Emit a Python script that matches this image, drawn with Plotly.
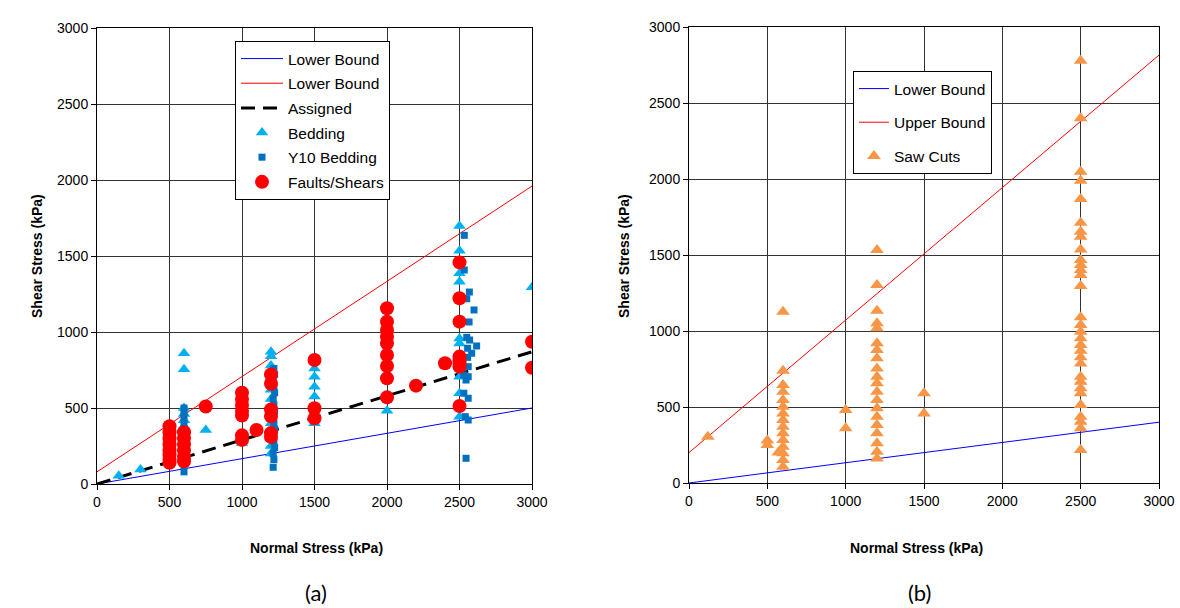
import plotly.graph_objects as go

# ---------------- data: panel (a) ----------------
lb_a_x = [0, 3000]
lb_a_y = [0, 500]
ub_a_x = [0, 3000]
ub_a_y = [80, 1960]
asg_x = [0, 3000]
asg_y = [0, 870]

bed_x = [150, 300,
         600, 600, 600, 600, 600, 600,
         750, 1000,
         1200, 1200, 1200, 1200, 1200, 1200, 1200, 1200, 1200, 1200, 1200, 1200, 1200,
         1500, 1500, 1500, 1500, 1500,
         2000,
         2500, 2500, 2500, 2500, 2500, 2500, 2500, 2500, 2500,
         3000]
bed_y = [55, 95,
         860, 755, 500, 460, 420, 380,
         355, 270,
         870, 840, 780, 700, 620, 560, 500, 450, 400, 350, 300, 250, 200,
         760, 705, 640, 575, 400,
         482,
         1697, 1535, 1386, 1331, 958, 925, 706, 597, 443,
         1295]

y10_x = [600, 600, 600, 600, 600, 600, 600, 600, 600, 600, 600, 600,
         1220, 1225, 1215, 1220, 1225, 1215, 1220, 1225, 1215, 1220, 1225, 1215, 1220, 1225, 1215, 1220, 1215,
         2533, 2533, 2568, 2550, 2600, 2566, 2550, 2570, 2618, 2556, 2584, 2556, 2560,
         2530, 2560, 2545, 2530, 2560, 2540, 2560, 2545]
y10_y = [500, 470, 440, 400, 360, 320, 280, 240, 200, 160, 120, 80,
         760, 720, 680, 640, 600, 560, 520, 480, 440, 400, 360, 320, 280, 240, 200, 160, 110,
         1636, 1408, 1263, 1219, 1145, 1066, 965, 947, 908, 893, 860, 833, 772,
         717, 706, 684, 597, 564, 443, 421, 169]

flt_x = [500, 500, 500, 500, 500, 500, 500, 500,
         600, 600, 600, 600, 600, 600,
         750,
         1000, 1000, 1000, 1000, 1000, 1000, 1000,
         1100,
         1200, 1200, 1200, 1200, 1200, 1200,
         1500, 1500, 1500,
         2000, 2000, 2000, 2000, 2000, 2000, 2000, 2000, 2000,
         2200, 2400,
         2500, 2500, 2500, 2500, 2500, 2500, 2500, 2500,
         3000, 3000]
flt_y = [380, 340, 300, 260, 220, 190, 160, 140,
         340, 300, 260, 220, 180, 150,
         510,
         600, 560, 520, 480, 450, 320, 290,
         355,
         720, 660, 490, 445, 335, 310,
         816, 498, 432,
         1156, 1068, 1013, 969, 925, 849, 776, 695, 570,
         647, 794,
         1458, 1222, 1068, 838, 816, 794, 772, 513,
         936, 765]

# ---------------- data: panel (b) ----------------
lb_b_x = [0, 3000]
lb_b_y = [0, 400]
ub_b_x = [0, 3000]
ub_b_y = [200, 2815]

saw_x = [120, 500, 500, 570,
         600, 600, 600, 600, 600, 600, 600, 600, 600, 600, 600, 600, 600, 600, 600,
         1000, 1000,
         1200, 1200, 1200, 1200, 1200, 1200, 1200, 1200, 1200, 1200, 1200, 1200, 1200,
         1200, 1200, 1200, 1200, 1200, 1200, 1200,
         1500, 1500,
         2500, 2500, 2500, 2500, 2500, 2500, 2500, 2500, 2500, 2500, 2500, 2500, 2500,
         2500, 2500, 2500, 2500, 2500, 2500, 2500, 2500, 2500, 2500, 2500, 2500, 2500,
         2500, 2500, 2500, 2500, 2500]
saw_y = [305, 280, 250, 200,
         1127, 739, 645, 601, 546, 502, 458, 414, 370, 327, 283, 239, 195, 151, 107,
         480, 360,
         1533, 1303, 1134, 1051, 1018, 919, 875, 820, 754, 699, 656, 601, 546,
         491, 436, 382, 327, 261, 206, 162,
         590, 458,
         2778, 2399, 2048, 1989, 1868, 1712, 1653, 1620, 1537, 1467, 1434, 1401, 1368,
         1296, 1090, 1039, 995, 952, 908, 870, 827, 787, 699, 666, 623, 590,
         513, 436, 403, 360, 217]

tick_vals = [0, 500, 1000, 1500, 2000, 2500, 3000]
tick_text = ["0", "500", "1000", "1500", "2000", "2500", "3000"]

FONT = "Liberation Sans, Arial, sans-serif"
W, H = 1180, 608


def px(xp):
    return xp / W


def py(yp):
    return 1 - yp / H


fig = go.Figure()

# panel (a)
fig.add_trace(go.Scatter(x=lb_a_x, y=lb_a_y, mode="lines", name="Lower Bound",
                         line=dict(color="#0000FF", width=1), xaxis="x", yaxis="y",
                         legend="legend", legendgroup="a1"))
fig.add_trace(go.Scatter(x=ub_a_x, y=ub_a_y, mode="lines", name="Lower Bound",
                         line=dict(color="#FF0000", width=1), xaxis="x", yaxis="y",
                         legend="legend", legendgroup="a2"))
fig.add_trace(go.Scatter(x=asg_x, y=asg_y, mode="lines", name="Assigned",
                         line=dict(color="#000000", width=3, dash="14px,8px"),
                         xaxis="x", yaxis="y", legend="legend", legendgroup="a3"))
fig.add_trace(go.Scatter(x=bed_x, y=bed_y, mode="markers", name="Bedding",
                         marker=dict(symbol="triangle-up", size=11, color="#00B0F0"),
                         xaxis="x", yaxis="y", legend="legend", legendgroup="a4"))
fig.add_trace(go.Scatter(x=y10_x, y=y10_y, mode="markers", name="Y10 Bedding",
                         marker=dict(symbol="square", size=7, color="#0070C0"),
                         xaxis="x", yaxis="y", legend="legend", legendgroup="a5"))
fig.add_trace(go.Scatter(x=flt_x, y=flt_y, mode="markers", name="Faults/Shears",
                         marker=dict(symbol="circle", size=14, color="#FF0000"),
                         xaxis="x", yaxis="y", legend="legend", legendgroup="a6"))

# panel (b)
fig.add_trace(go.Scatter(x=lb_b_x, y=lb_b_y, mode="lines", name="Lower Bound",
                         line=dict(color="#0000FF", width=1), xaxis="x2", yaxis="y2",
                         legend="legend2", legendgroup="b1"))
fig.add_trace(go.Scatter(x=ub_b_x, y=ub_b_y, mode="lines", name="Upper Bound",
                         line=dict(color="#FF0000", width=1), xaxis="x2", yaxis="y2",
                         legend="legend2", legendgroup="b2"))
fig.add_trace(go.Scatter(x=saw_x, y=saw_y, mode="markers", name="Saw Cuts",
                         marker=dict(symbol="triangle-up", size=12, color="#F79646"),
                         xaxis="x2", yaxis="y2", legend="legend2", legendgroup="b3"))

axis_common = dict(range=[0, 3000], tickvals=tick_vals, ticktext=tick_text,
                   showgrid=True, gridcolor="#333333", gridwidth=1,
                   showline=True, linecolor="#000000", linewidth=1, mirror=True,
                   ticks="outside", ticklen=5, tickcolor="#000000",
                   tickfont=dict(family=FONT, size=14, color="#000000"),
                   zeroline=False, automargin=False, fixedrange=True)

fig.update_layout(
    width=W, height=H,
    margin=dict(l=0, r=0, t=0, b=0),
    paper_bgcolor="white", plot_bgcolor="white",
    font=dict(family=FONT, size=14, color="#000000"),
    xaxis=dict(domain=[px(97), px(532)], anchor="y", **axis_common),
    yaxis=dict(domain=[py(484), py(28)], anchor="x", **axis_common),
    xaxis2=dict(domain=[px(689), px(1159)], anchor="y2", **axis_common),
    yaxis2=dict(domain=[py(483), py(27)], anchor="x2", **axis_common),
    legend=dict(x=px(235), y=py(41), xanchor="left", yanchor="top",
                bgcolor="white", bordercolor="#000000", borderwidth=1,
                font=dict(family=FONT, size=15.5, color="#000000"),
                itemwidth=42,
                traceorder="grouped", tracegroupgap=1.5),
    legend2=dict(x=px(853), y=py(71), xanchor="left", yanchor="top",
                 bgcolor="white", bordercolor="#000000", borderwidth=1,
                 font=dict(family=FONT, size=15.5, color="#000000"),
                 itemwidth=30,
                 traceorder="grouped", tracegroupgap=10.5),
    showlegend=True,
    hovermode=False,
)

ann = []
title_font = dict(family=FONT, size=14, color="#000000")
ann.append(dict(text="<b>Normal Stress (kPa)</b>", x=px(316), y=py(548), xref="paper", yref="paper",
                showarrow=False, font=title_font, xanchor="center", yanchor="middle"))
ann.append(dict(text="<b>Normal Stress (kPa)</b>", x=px(916), y=py(548), xref="paper", yref="paper",
                showarrow=False, font=title_font, xanchor="center", yanchor="middle"))
ann.append(dict(text="<b>Shear Stress (kPa)</b>", x=px(37), y=py(256), xref="paper", yref="paper",
                showarrow=False, font=title_font, textangle=-90, xanchor="center", yanchor="middle"))
ann.append(dict(text="<b>Shear Stress (kPa)</b>", x=px(624), y=py(256), xref="paper", yref="paper",
                showarrow=False, font=title_font, textangle=-90, xanchor="center", yanchor="middle"))
ann.append(dict(text="(a)", x=px(316), y=py(592), xref="paper", yref="paper",
                showarrow=False, font=dict(family="Lato, Open Sans, sans-serif", size=22, color="#000000"),
                xanchor="center", yanchor="middle"))
ann.append(dict(text="(b)", x=px(919), y=py(592), xref="paper", yref="paper",
                showarrow=False, font=dict(family="Lato, Open Sans, sans-serif", size=22, color="#000000"),
                xanchor="center", yanchor="middle"))
fig.update_layout(annotations=ann)

fig.write_html("out.html",
               config={"displayModeBar": False},
               post_script="document.body.style.margin='0';document.body.style.overflow='hidden';")
